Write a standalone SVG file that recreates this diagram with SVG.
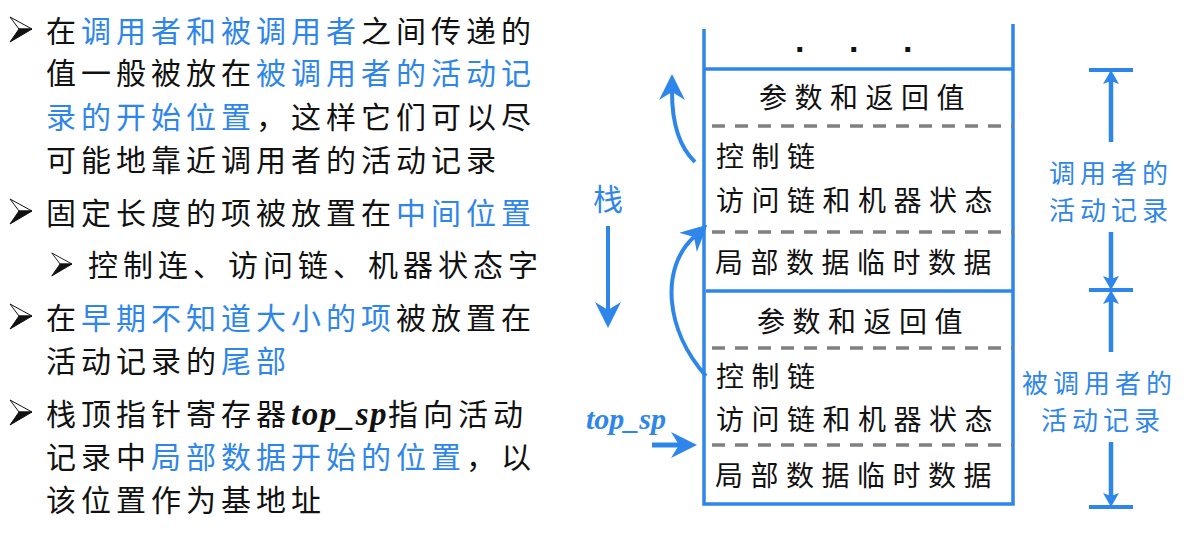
<svg xmlns="http://www.w3.org/2000/svg" width="1193" height="538" viewBox="0 0 1193 538">
  <style>
    .cn { font-family: "Noto Sans CJK SC", "Noto Sans", sans-serif; fill: #111; }
    .list { font-size: 30px; letter-spacing: 5px; }
    .hl { fill: #2F86EA; }
    .cell { font-size: 28px; letter-spacing: 7.5px; }
    .side { font-size: 26px; letter-spacing: 5px; fill: #2F86EA; }
    .it { font-family: "Liberation Serif", "Times New Roman", serif; font-style: italic; font-weight: bold; }
    .wall { stroke: #2F86EA; stroke-width: 3.5; fill: none; }
    .slot { stroke: #808080; stroke-width: 3.5; stroke-dasharray: 13 10; fill: none; }
    .link { stroke: #2F86EA; stroke-width: 4; fill: none; }
    .dim { stroke: #2F86EA; stroke-width: 4.5; fill: none; }
  </style>
  <defs>
    <!-- notched arrowhead, reference point at the notch -->
    <marker id="headL" viewBox="0 0 26 26" markerWidth="26" markerHeight="26" refX="8" refY="13" orient="auto" markerUnits="userSpaceOnUse">
      <path d="M26,13 L0,0 L8,13 L0,26 Z" fill="#2F86EA"/>
    </marker>
    <marker id="headS" viewBox="0 0 14 16" markerWidth="14" markerHeight="16" refX="3" refY="8" orient="auto" markerUnits="userSpaceOnUse">
      <path d="M14,8 L0,0 L3,8 L0,16 Z" fill="#2F86EA"/>
    </marker>
    <!-- list bullet: arrowhead with light upper half and dark lower half, tip at origin -->
    <g id="bullet">
      <polygon points="-22,-12 0,0 -13,0" fill="#fff" stroke="#111" stroke-width="1"/>
      <polygon points="-13,0 0,0 -22,13" fill="#111" stroke="#111" stroke-width="1"/>
    </g>
  </defs>

  <rect width="1193" height="538" fill="#fff"/>

  <!-- bullet list -->
  <g id="notes">
    <use href="#bullet" transform="translate(32,29)"/>
    <use href="#bullet" transform="translate(32,211)"/>
    <use href="#bullet" transform="translate(72,264) scale(0.92)"/>
    <use href="#bullet" transform="translate(32,316)"/>
    <use href="#bullet" transform="translate(32,412)"/>

    <text class="cn list" x="46" y="42">在<tspan class="hl">调用者和被调用者</tspan>之间传递的</text>
    <text class="cn list" x="46" y="84">值一般被放在<tspan class="hl">被调用者的活动记</tspan></text>
    <text class="cn list" x="46" y="128"><tspan class="hl">录的开始位置</tspan>，这样它们可以尽</text>
    <text class="cn list" x="46" y="171">可能地靠近调用者的活动记录</text>
    <text class="cn list" x="46" y="224">固定长度的项被放置在<tspan class="hl">中间位置</tspan></text>
    <text class="cn list" x="88" y="276">控制连、访问链、机器状态字</text>
    <text class="cn list" x="46" y="329">在<tspan class="hl">早期不知道大小的项</tspan>被放置在</text>
    <text class="cn list" x="46" y="372">活动记录的<tspan class="hl">尾部</tspan></text>
    <text class="cn list" x="46" y="425">栈顶指针寄存器<tspan class="it" style="font-size:33px;letter-spacing:1.5px">top_sp</tspan>指向活动</text>
    <text class="cn list" x="46" y="468">记录中<tspan class="hl">局部数据开始的位置</tspan>，以</text>
    <text class="cn list" x="46" y="511">该位置作为基地址</text>
  </g>

  <!-- run-time stack with two activation records -->
  <g id="stack">
    <path class="wall" d="M704,29 V504 H1013 V24"/>
    <path class="wall" d="M704,69 H1013"/>
    <path class="wall" d="M706,291 H1013"/>
    <path class="slot" d="M712,126 H1013 M712,232 H1013 M712,348 H1013 M712,445 H1013"/>
    <text style="font-family:'Liberation Sans',sans-serif;font-size:34px;font-weight:bold;fill:#111"><tspan x="795" y="52">.</tspan><tspan x="849" y="52">.</tspan><tspan x="903" y="52">.</tspan></text>
  </g>

  <g id="caller-record">
    <text class="cn cell" x="759" y="108">参数和返回值</text>
    <text class="cn cell" x="716" y="167">控制链</text>
    <text class="cn cell" x="716" y="211">访问链和机器状态</text>
    <text class="cn cell" x="715" y="273">局部数据临时数据</text>
  </g>

  <g id="callee-record">
    <text class="cn cell" x="757" y="332">参数和返回值</text>
    <text class="cn cell" x="716" y="387">控制链</text>
    <text class="cn cell" x="716" y="430">访问链和机器状态</text>
    <text class="cn cell" x="715" y="486">局部数据临时数据</text>
  </g>

  <g id="labels">
    <text class="cn side" x="593" y="210" style="font-size:30px">栈</text>
    <text class="it" x="586" y="429" style="font-size:30px;fill:#2F86EA">top_sp</text>
    <text class="cn side" x="1049" y="183">调用者的</text>
    <text class="cn side" x="1049" y="220">活动记录</text>
    <text class="cn side" x="1022" y="393">被调用者的</text>
    <text class="cn side" x="1041" y="430">活动记录</text>
  </g>

  <!-- arrows and extent markers -->
  <g id="connectors">
    <path class="link" d="M608,226 V310" marker-end="url(#headL)"/>
    <path class="link" d="M695,162 Q672,140 672,92" marker-end="url(#headL)"/>
    <path class="link" d="M706,376 C665,330 660,268 694,237" marker-end="url(#headL)"/>
    <path class="link" style="stroke-width:5" d="M652,445 H679" marker-end="url(#headL)"/>

    <path class="dim" d="M1089,70 H1133 M1089,290 H1133 M1089,507 H1133" style="stroke-width:4"/>
    <path class="dim" d="M1111,142 V81" marker-end="url(#headS)"/>
    <path class="dim" d="M1111,232 V279" marker-end="url(#headS)"/>
    <path class="dim" d="M1111,352 V301" marker-end="url(#headS)"/>
    <path class="dim" d="M1111,442 V496" marker-end="url(#headS)"/>
  </g>
</svg>
